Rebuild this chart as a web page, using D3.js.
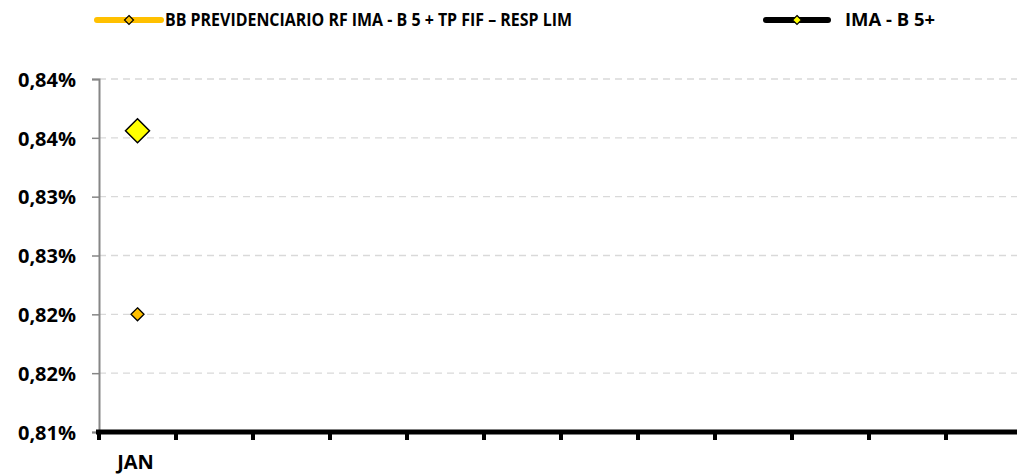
<!DOCTYPE html>
<html><head><meta charset="utf-8">
<script src="https://cdn.jsdelivr.net/npm/d3@7"></script>
<style>
body{margin:0;background:#fff;}
svg text{font-family:"Open Sans",sans-serif;font-weight:700;fill:#000;}
</style></head>
<body><svg id="c" width="1017" height="475"></svg>
<script>
const months = ["JAN","FEV","MAR","ABR","MAI","JUN","JUL","AGO","SET","OUT","NOV","DEZ"];
const monthLabels = ["JAN","","","","","","","","","","",""];
const seriesNames = ["BB PREVIDENCIARIO RF IMA - B 5 + TP FIF – RESP LIM","IMA - B 5+"];
const fundValues = [0.820];
const indexValues = [0.8356];
const yTicks = [0.810,0.815,0.820,0.825,0.830,0.835,0.840];
const yTickLabels = ["0,81%","0,82%","0,82%","0,83%","0,83%","0,84%","0,84%"];

const svg = d3.select("#c");
const plotLeft = 99, plotTop = 79, plotBottom = 432;
const x = d3.scaleBand().domain(months).range([plotLeft, plotLeft + 77*12]).paddingInner(0).paddingOuter(0);
const y = d3.scaleLinear().domain([0.810, 0.840]).range([plotBottom, plotTop]);

// gridlines
svg.append("g").selectAll("line").data(yTicks.slice(1)).join("line")
  .attr("x1", plotLeft).attr("x2", 1017).attr("y1", d=>y(d)).attr("y2", d=>y(d))
  .attr("stroke","#d9d9d9").attr("stroke-width",1.3).attr("stroke-dasharray","7,5");

// y axis
const yAxis = d3.axisLeft(y).tickValues(yTicks).tickFormat((d,i)=>yTickLabels[i]).tickSize(7).tickPadding(16);
const gy = svg.append("g").attr("transform",`translate(${plotLeft},0)`).call(yAxis);
gy.select(".domain").attr("stroke","#868686").attr("stroke-width",2);
gy.selectAll(".tick line").attr("stroke","#868686").attr("stroke-width",1.5);
gy.selectAll(".tick text").style("font-size","20px").attr("fill","#000").attr("dy","0.36em");

// x axis
const xAxis = d3.axisBottom(x).tickValues(months).tickFormat((d,i)=>monthLabels[i]).tickSize(0).tickPadding(0);
const gx = svg.append("g").attr("transform",`translate(0,${plotBottom})`).call(xAxis);
gx.select(".domain").remove();
gx.selectAll(".tick text").style("font-size","20px").attr("fill","#000").attr("dx","-2").attr("y",37).attr("dy","0");
gx.append("line").attr("x1", plotLeft-3).attr("x2", 1017).attr("y1",0).attr("y2",0).attr("stroke","#000").attr("stroke-width",5);
gx.selectAll(".tk").data(months).join("rect").attr("class","tk")
  .attr("x", d=>x(d)-2).attr("y",0).attr("width",4).attr("height",8).attr("fill","#000");

const diam = s => `M0,${-s}L${s},0L0,${s}L${-s},0Z`;

// series
svg.append("g").selectAll("path").data(indexValues).join("path")
  .attr("d", diam(12))
  .attr("transform",(d,i)=>`translate(${x(months[i])+x.bandwidth()/2},${y(d)})`)
  .attr("fill","#ffff00").attr("stroke","#000").attr("stroke-width",1.5);
svg.append("g").selectAll("path").data(fundValues).join("path")
  .attr("d", diam(6.5))
  .attr("transform",(d,i)=>`translate(${x(months[i])+x.bandwidth()/2},${y(d)})`)
  .attr("fill","#ffc000").attr("stroke","#000").attr("stroke-width",1.3);

// legend
const leg = [
  {name: seriesNames[0], line:"#ffc000", fill:"#ffc000", x0:97, x1:161, tx:165, w:407},
  {name: seriesNames[1], line:"#000", fill:"#ffff00", x0:766, x1:828, tx:845, w:90}
];
const lg = svg.append("g");
leg.forEach(l=>{
  lg.append("line").attr("x1",l.x0).attr("x2",l.x1).attr("y1",20).attr("y2",20)
    .attr("stroke",l.line).attr("stroke-width",6).attr("stroke-linecap","round");
  lg.append("path").attr("d",diam(4.5)).attr("transform",`translate(${(l.x0+l.x1)/2},20)`)
    .attr("fill",l.fill).attr("stroke","#000").attr("stroke-width",1.2);
  lg.append("text").attr("x",l.tx).attr("y",20).attr("dy","0.36em").style("font-size","17px")
    .attr("textLength",l.w).attr("lengthAdjust","spacingAndGlyphs").text(l.name);
});
</script></body></html>
